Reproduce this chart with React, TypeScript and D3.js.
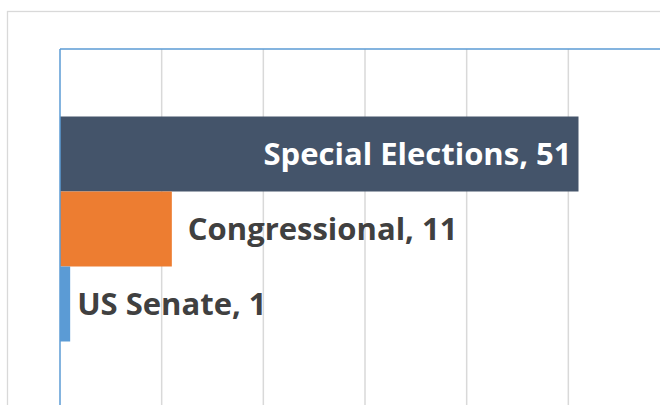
import React, { useEffect, useRef } from 'react';
import * as d3 from 'd3';

// series listed top to bottom as they appear
const SERIES = ['Special Elections', 'Congressional', 'US Senate'];
const VALUES = [51, 11, 1];
const COLORS = ['#44546a', '#ed7d31', '#5b9bd5'];
const LABEL_INSIDE = [true, false, false];
const LABEL_GAP = [7, 16, 7];
const X_TICKS = [0, 10, 20, 30, 40, 50, 60];

export default function App() {
  const svgRef = useRef<SVGSVGElement>(null);

  useEffect(() => {
    const width = 660;
    const height = 405;
    const plot = { left: 60, top: 49, right: 670, bottom: 409 };

    const svg = d3.select(svgRef.current);
    svg.selectAll('*').remove();
    svg.attr('width', width).attr('height', height).attr('viewBox', `0 0 ${width} ${height}`);

    svg.append('rect').attr('width', width).attr('height', height).attr('fill', 'white');
    // chart-area border (runs off the right/bottom edge)
    svg.append('rect').attr('x', 7.5).attr('y', 11.5).attr('width', 700).attr('height', 450)
      .attr('fill', 'none').attr('stroke', '#d9d9d9').attr('stroke-width', 1.3);

    const x = d3.scaleLinear().domain([0, 60]).range([plot.left, plot.right]);
    const y = d3.scaleBand().domain(SERIES).range([plot.top, plot.bottom])
      .paddingInner(0).paddingOuter(0.9);

    X_TICKS.slice(1).forEach(t => {
      svg.append('line').attr('x1', x(t)).attr('x2', x(t))
        .attr('y1', plot.top).attr('y2', height)
        .attr('stroke', '#d9d9d9').attr('stroke-width', 1.5);
    });

    SERIES.forEach((s, i) => {
      svg.append('rect').attr('x', x(0)).attr('y', y(s)!)
        .attr('width', x(VALUES[i]) - x(0)).attr('height', y.bandwidth())
        .attr('fill', COLORS[i]);
    });

    // plot-area outline: top and left edges in blue
    svg.append('line').attr('x1', plot.left).attr('x2', width).attr('y1', plot.top).attr('y2', plot.top)
      .attr('stroke', '#5b9bd5').attr('stroke-width', 1.5);
    svg.append('line').attr('x1', plot.left).attr('x2', plot.left).attr('y1', plot.top).attr('y2', height)
      .attr('stroke', '#5b9bd5').attr('stroke-width', 1.5);

    SERIES.forEach((s, i) => {
      const inside = LABEL_INSIDE[i];
      const end = x(VALUES[i]);
      svg.append('text')
        .attr('x', inside ? end - LABEL_GAP[i] : end + LABEL_GAP[i])
        .attr('y', y(s)! + y.bandwidth() / 2)
        .attr('dy', '0.36em')
        .attr('text-anchor', inside ? 'end' : 'start')
        .style('font-family', '"Open Sans", sans-serif')
        .style('font-weight', 'bold')
        .style('font-size', '31px')
        .style('fill', inside ? '#ffffff' : '#404040')
        .text(`${s}, ${VALUES[i]}`);
    });
  }, []);

  return (
    <div style={{ position: 'absolute', left: 0, top: 0, width: 660, height: 405, overflow: 'hidden' }}>
      <svg ref={svgRef} style={{ display: 'block' }}></svg>
    </div>
  );
}
